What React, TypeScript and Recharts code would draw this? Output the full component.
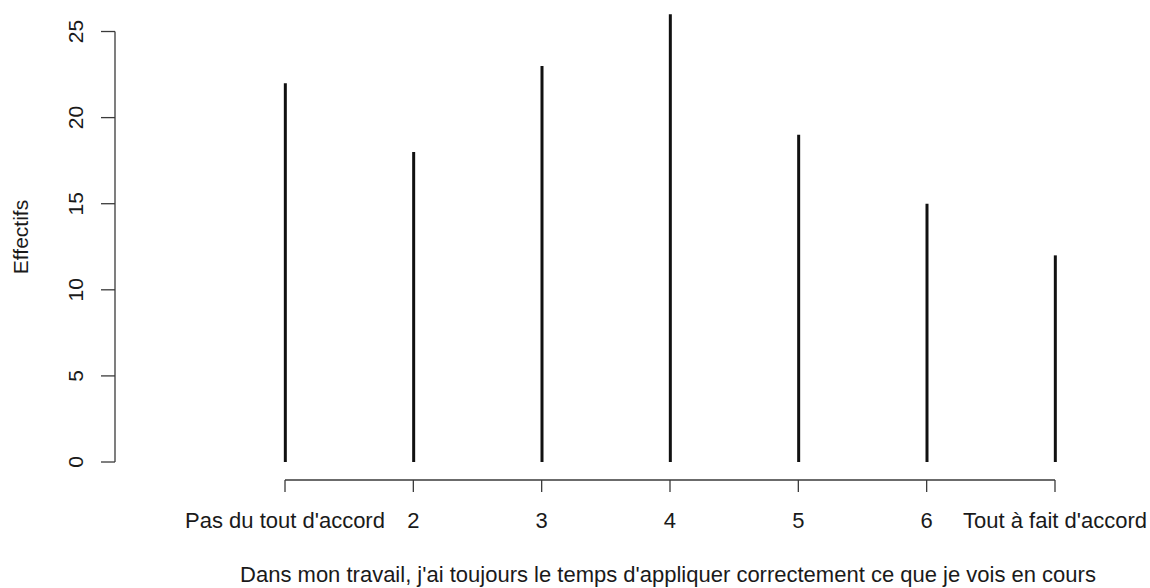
import React from "react";
import { ComposedChart, Bar, XAxis, YAxis, ReferenceLine } from "recharts";

const categories = [1, 2, 3, 4, 5, 6, 7];
const tickLabels = ["Pas du tout d'accord", "2", "3", "4", "5", "6", "Tout à fait d'accord"];
const effectifs = [22, 18, 23, 26, 19, 15, 12];
const yTicks = [0, 5, 10, 15, 20, 25];
const xTitle = "Dans mon travail, j'ai toujours le temps d'appliquer correctement ce que je vois en cours";
const yTitle = "Effectifs";

const data = categories.map((c, i) => ({ x: c, y: effectifs[i], label: tickLabels[i] }));

const FONT = "'Liberation Sans', Arial, sans-serif";
const AXIS_COLOR = "#3a3a3a";
const TEXT_COLOR = "#1a1a1a";

const X_DOMAIN: [number, number] = [-0.3247, 7.2416];
const Y_DOMAIN: [number, number] = [-1.045, 26.83];

const XTick = (props: any) => {
  const { x, payload } = props;
  const idx = categories.indexOf(payload.value);
  return (
    <text x={x} y={528} textAnchor="middle" fontFamily={FONT} fontSize={22} fill={TEXT_COLOR}>
      {tickLabels[idx]}
    </text>
  );
};

const YTick = (props: any) => {
  const { y, payload } = props;
  return (
    <text
      x={83}
      y={y}
      transform={`rotate(-90, 83, ${y})`}
      textAnchor="middle"
      fontFamily={FONT}
      fontSize={21}
      fill={TEXT_COLOR}
    >
      {payload.value}
    </text>
  );
};

export default function App() {
  return (
    <div style={{ position: "absolute", left: 0, top: 0, width: 1150, height: 588, background: "#fff" }}>
      <ComposedChart
        width={1150}
        height={588}
        data={data}
        margin={{ top: 0, right: 64, left: 0, bottom: 0 }}
      >
        <XAxis
          dataKey="x"
          type="number"
          domain={X_DOMAIN}
          ticks={categories}
          allowDataOverflow
          axisLine={false}
          tickLine={{ stroke: AXIS_COLOR, strokeWidth: 1.3 }}
          tickSize={12}
          tick={<XTick />}
          height={108}
          interval={0}
        />
        <YAxis
          type="number"
          domain={Y_DOMAIN}
          ticks={yTicks}
          allowDataOverflow
          axisLine={false}
          tickLine={{ stroke: AXIS_COLOR, strokeWidth: 1.3 }}
          tickSize={14}
          tick={<YTick />}
          width={115}
          interval={0}
        />
        <ReferenceLine
          segment={[{ x: 1, y: Y_DOMAIN[0] }, { x: 7, y: Y_DOMAIN[0] }]}
          stroke={AXIS_COLOR}
          strokeWidth={1.3}
          ifOverflow="visible"
        />
        <ReferenceLine
          segment={[{ x: X_DOMAIN[0], y: 0 }, { x: X_DOMAIN[0], y: 25 }]}
          stroke={AXIS_COLOR}
          strokeWidth={1.3}
          ifOverflow="visible"
        />
        <Bar dataKey="y" fill="#111" barSize={3} isAnimationActive={false} />
        <text x={668} y={582} textAnchor="middle" fontFamily={FONT} fontSize={22} fill={TEXT_COLOR}>
          {xTitle}
        </text>
        <text
          x={28}
          y={237}
          transform="rotate(-90, 28, 237)"
          textAnchor="middle"
          fontFamily={FONT}
          fontSize={21}
          fill={TEXT_COLOR}
        >
          {yTitle}
        </text>
      </ComposedChart>
    </div>
  );
}
